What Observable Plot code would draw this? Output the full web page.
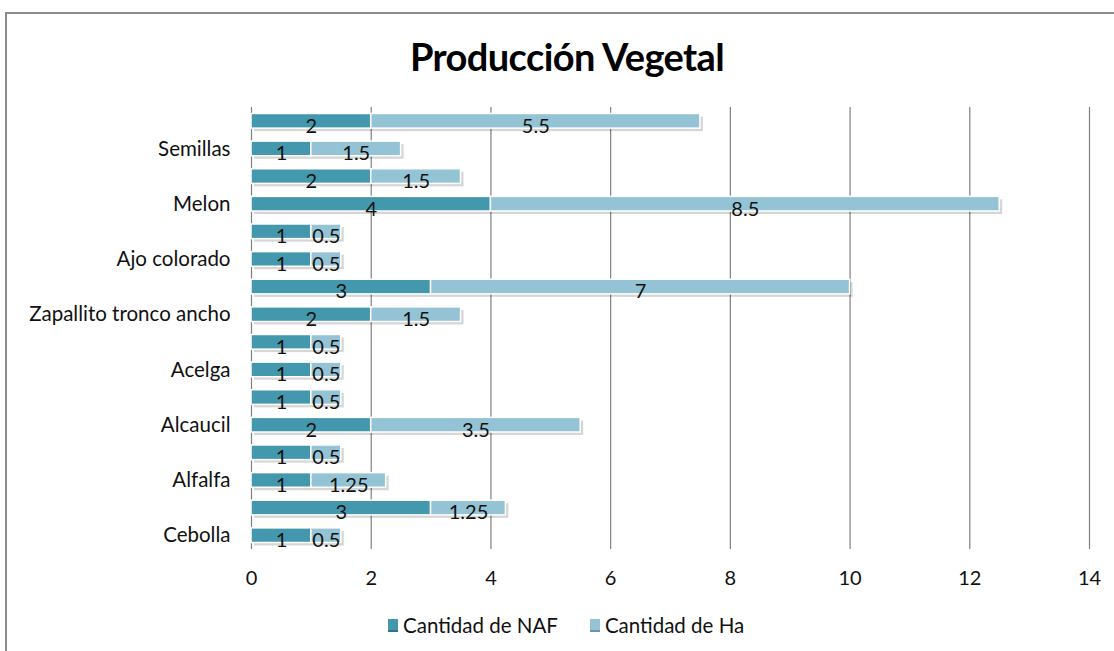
<!DOCTYPE html>
<html><head><meta charset="utf-8">
<script src="https://cdn.jsdelivr.net/npm/d3@7"></script>
<script src="https://cdn.jsdelivr.net/npm/@observablehq/plot@0.6"></script>
<style>
body{margin:0;background:#fff;}
#wrap{position:relative;width:1114px;height:651px;overflow:hidden;font-family:Lato,"Liberation Sans",sans-serif;background:#fff;}
#frame{position:absolute;left:5px;top:12px;width:1200px;height:700px;border-top:2px solid #8c8c8c;border-left:2px solid #8c8c8c;}
#title{position:absolute;top:33px;left:0;width:1134px;text-align:center;font-weight:bold;font-size:38px;color:#000;letter-spacing:-0.6px;}
#chart{position:absolute;left:0;top:0;}
#legend{position:absolute;top:613px;left:388px;display:flex;gap:32px;font-size:20.5px;color:#111;}
.item{display:flex;align-items:center;gap:5px;}
.sw{width:10px;height:11px;border-bottom:2px solid;}
</style></head>
<body>
<div id="wrap">
  <div id="frame"></div>
  <div id="title">Producción Vegetal</div>
  <div id="chart"></div>
  <div id="legend"></div>
</div>
<script>
// categories, top to bottom (Excel only printed every other label)
const labels = ["", "Semillas", "", "Melon", "", "Ajo colorado", "", "Zapallito tronco ancho", "", "Acelga", "", "Alcaucil", "", "Alfalfa", "", "Cebolla"];
const naf = [2, 1, 2, 4, 1, 1, 3, 2, 1, 1, 1, 2, 1, 1, 3, 1];
const ha  = [5.5, 1.5, 1.5, 8.5, 0.5, 0.5, 7, 1.5, 0.5, 0.5, 0.5, 3.5, 0.5, 1.25, 1.25, 0.5];
const seriesNames = ["Cantidad de NAF", "Cantidad de Ha"];
const seriesColors = ["#4398ae", "#93c3d4"];
const xTicks = [0, 2, 4, 6, 8, 10, 12, 14];

const ids = labels.map((_, i) => i);
const tidy = [
  ...ids.map(i => ({id: i, series: seriesNames[0], value: naf[i]})),
  ...ids.map(i => ({id: i, series: seriesNames[1], value: ha[i]}))
];
const totals = ids.map(i => ({id: i, total: naf[i] + ha[i]}));

const chart = Plot.plot({
  width: 1114,
  height: 651,
  marginTop: 107,
  marginBottom: 102,
  marginLeft: 251,
  marginRight: 25,
  style: {fontFamily: "Lato, 'Liberation Sans', sans-serif", fontSize: "20px", color: "#111", background: "transparent"},
  x: {domain: [0, 14], ticks: xTicks},
  y: {domain: ids, paddingInner: 0.47, paddingOuter: 0.235, round: false},
  color: {domain: seriesNames, range: seriesColors},
  marks: [
    Plot.gridX(xTicks, {stroke: "#808080", strokeOpacity: 1, strokeWidth: 1.2}),
    Plot.axisX({ticks: xTicks, tickSize: 0, tickPadding: 21, label: null, fontSize: 20}),
    Plot.axisY({tickSize: 0, tickPadding: 21, label: null, tickFormat: i => labels[i], fontSize: 20.5}),
    Plot.barX(totals, {x: "total", y: "id", fill: "#000", fillOpacity: 0.16, dx: 3, dy: 3}),
    Plot.barX(tidy, Plot.stackX({x: "value", y: "id", z: "series", fill: "series", stroke: "white", strokeWidth: 1.5})),
    Plot.text(tidy, Plot.stackX({x: "value", y: "id", z: "series", text: d => String(d.value), dy: 5, fill: "#111", fontSize: 20}))
  ]
});
document.getElementById("chart").appendChild(chart);

const legend = document.getElementById("legend");
seriesNames.forEach((s, k) => {
  const item = document.createElement("div");
  item.className = "item";
  const sw = document.createElement("div");
  sw.className = "sw";
  sw.style.background = seriesColors[k];
  sw.style.borderBottomColor = d3.color(seriesColors[k]).darker(0.8);
  const t = document.createElement("span");
  t.textContent = s;
  item.appendChild(sw);
  item.appendChild(t);
  legend.appendChild(item);
});
</script>
</body></html>
